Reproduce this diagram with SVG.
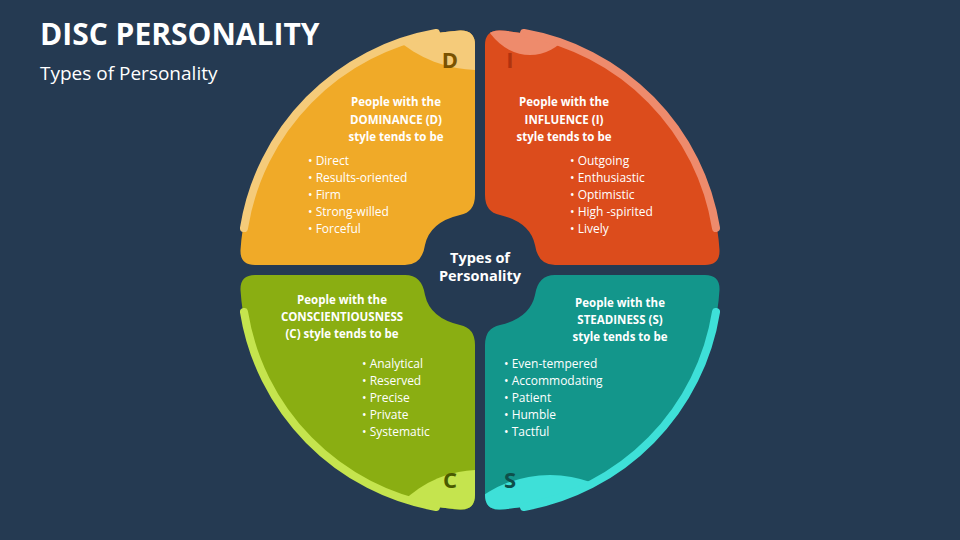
<svg xmlns="http://www.w3.org/2000/svg" width="960" height="540" viewBox="0 0 960 540">
<style>
text{font-family:"Open Sans","Liberation Sans",sans-serif;fill:#fff}
.h{font-weight:bold;font-size:11.5px;text-anchor:middle}
.b{font-size:12px}
.L{font-weight:bold;font-size:22px;text-anchor:middle}
.strip{fill:none;stroke-width:8;stroke-linecap:round}
</style>
<defs>
<path id="q" d="M240.5,250 A235,235 0 0 1 460,30.5 Q475,30 475,45 L475,195 Q475,212 460,215 Q430,222 425,245 Q422,265 405,265 L255,265 Q240,265 240.5,250 Z"/>
<clipPath id="cq"><use href="#q"/></clipPath>
</defs>
<rect width="960" height="540" fill="#253A52"/>
<text x="40" y="45" style="font-weight:bold;font-size:30px;font-family:'Open Sans','Liberation Sans',sans-serif">DISC PERSONALITY</text>
<text x="40" y="80" style="font-size:19px">Types of Personality</text>
<g id="connectors"/>
<g id="D">
<use href="#q" fill="#F0AA28"/>
<g clip-path="url(#cq)"><ellipse cx="480" cy="-40" rx="120" ry="110" fill="#F5CB7A"/></g>
<path class="strip" stroke="#F5CB7A" d="M244,228 A236,236 0 0 1 436,33"/>
<text class="L" x="450" y="68" style="fill:#7A5200">D</text>
<text class="h" x="396" y="106">People with the</text>
<text class="h" x="396" y="124">DOMINANCE (D)</text>
<text class="h" x="396" y="141">style tends to be</text>
<text class="b" x="308" y="165">•  Direct</text>
<text class="b" x="308" y="182">•  Results-oriented</text>
<text class="b" x="308" y="199">•  Firm</text>
<text class="b" x="308" y="216">•  Strong-willed</text>
<text class="b" x="308" y="233">•  Forceful</text>
</g>
<g id="I">
<g transform="translate(960,0) scale(-1,1)">
<use href="#q" fill="#DC4C1C"/>
<g clip-path="url(#cq)"><ellipse cx="430" cy="-15" rx="55" ry="70" fill="#EE8B6C"/></g>
<path class="strip" stroke="#EE8B6C" d="M244,228 A236,236 0 0 1 436,33"/>
</g>
<text class="L" x="510" y="68" style="fill:#B0330F">I</text>
<text class="h" x="564" y="106">People with the</text>
<text class="h" x="564" y="124">INFLUENCE (I)</text>
<text class="h" x="564" y="141">style tends to be</text>
<text class="b" x="570" y="165">•  Outgoing</text>
<text class="b" x="570" y="182">•  Enthusiastic</text>
<text class="b" x="570" y="199">•  Optimistic</text>
<text class="b" x="570" y="216">•  High -spirited</text>
<text class="b" x="570" y="233">•  Lively</text>
</g>
<g id="C">
<g transform="translate(0,540) scale(1,-1)">
<use href="#q" fill="#8AAE12"/>
<g clip-path="url(#cq)"><ellipse cx="480" cy="-40" rx="110" ry="110" fill="#C5E44E"/></g>
<path class="strip" stroke="#C5E44E" d="M244,228 A236,236 0 0 1 436,33"/>
</g>
<text class="L" x="450" y="488" style="fill:#4A5A00">C</text>
<text class="h" x="342" y="304">People with the</text>
<text class="h" x="342" y="321">CONSCIENTIOUSNESS</text>
<text class="h" x="342" y="338">(C) style tends to be</text>
<text class="b" x="362" y="368">•  Analytical</text>
<text class="b" x="362" y="385">•  Reserved</text>
<text class="b" x="362" y="402">•  Precise</text>
<text class="b" x="362" y="419">•  Private</text>
<text class="b" x="362" y="436">•  Systematic</text>
</g>
<g id="S">
<g transform="translate(960,540) scale(-1,-1)">
<use href="#q" fill="#13968B"/>
<g clip-path="url(#cq)"><ellipse cx="410" cy="-35" rx="110" ry="100" fill="#3EE0D8"/></g>
<path class="strip" stroke="#3EE0D8" d="M244,228 A236,236 0 0 1 436,33"/>
</g>
<text class="L" x="510" y="488" style="fill:#0E4F4A">S</text>
<text class="h" x="620" y="307">People with the</text>
<text class="h" x="620" y="324">STEADINESS (S)</text>
<text class="h" x="620" y="341">style tends to be</text>
<text class="b" x="504" y="368">•  Even-tempered</text>
<text class="b" x="504" y="385">•  Accommodating</text>
<text class="b" x="504" y="402">•  Patient</text>
<text class="b" x="504" y="419">•  Humble</text>
<text class="b" x="504" y="436">•  Tactful</text>
</g>
<g id="center">
<text x="480" y="263" style="font-weight:bold;font-size:14.5px;text-anchor:middle">Types of</text>
<text x="480" y="281" style="font-weight:bold;font-size:14.5px;text-anchor:middle">Personality</text>
</g>
</svg>
